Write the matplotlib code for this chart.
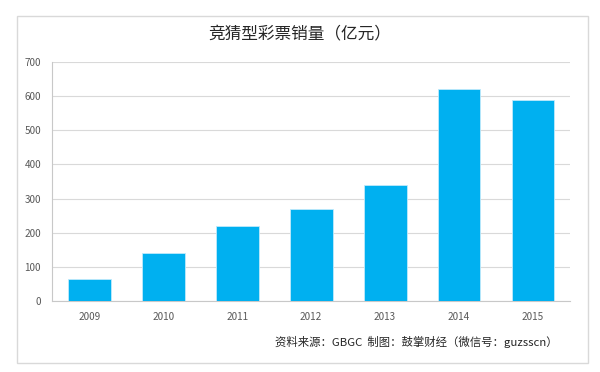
import matplotlib.pyplot as plt
from matplotlib.patches import Rectangle

plt.rcParams['font.family'] = ['Noto Sans CJK SC', 'DejaVu Sans']

years = ["2009", "2010", "2011", "2012", "2013", "2014", "2015"]
sales = [65, 140, 220, 270, 340, 620, 590]

fig = plt.figure(figsize=(6, 3.72), dpi=100)
ax = fig.add_axes([0.087, 0.191, 0.863, 0.642])

# outer frame
fig.patches.append(Rectangle((0.028, 0.024), 0.952, 0.933, transform=fig.transFigure,
                             fill=False, edgecolor='#d9d9d9', linewidth=1))

x = range(len(years))
ax.bar(x, sales, width=0.58, color='#00B0F0', edgecolor='#bfeafb', linewidth=0.6, zorder=3)

ax.set_xlim(-0.5, len(years) - 0.5)
ax.set_ylim(0, 700)
ax.set_yticks(range(0, 701, 100))
ax.set_xticks(list(x))
ax.set_xticklabels(years)
ax.grid(axis='y', color='#d9d9d9', linewidth=0.8, zorder=0)
ax.tick_params(length=0, labelsize=7.2, colors='#595959', pad=8)
for s in ['top', 'right']:
    ax.spines[s].set_visible(False)
for s in ['left', 'bottom']:
    ax.spines[s].set_color('#c8c8c8')

fig.text(0.5, 0.905, '竞猜型彩票销量（亿元）', ha='center', va='center', fontsize=12, color='#262626')
fig.text(0.93, 0.082, '资料来源：GBGC  制图：鼓掌财经（微信号：guzsscn）', ha='right', va='center',
         fontsize=8.2, color='#262626')

fig.savefig('out.png', dpi=100)
